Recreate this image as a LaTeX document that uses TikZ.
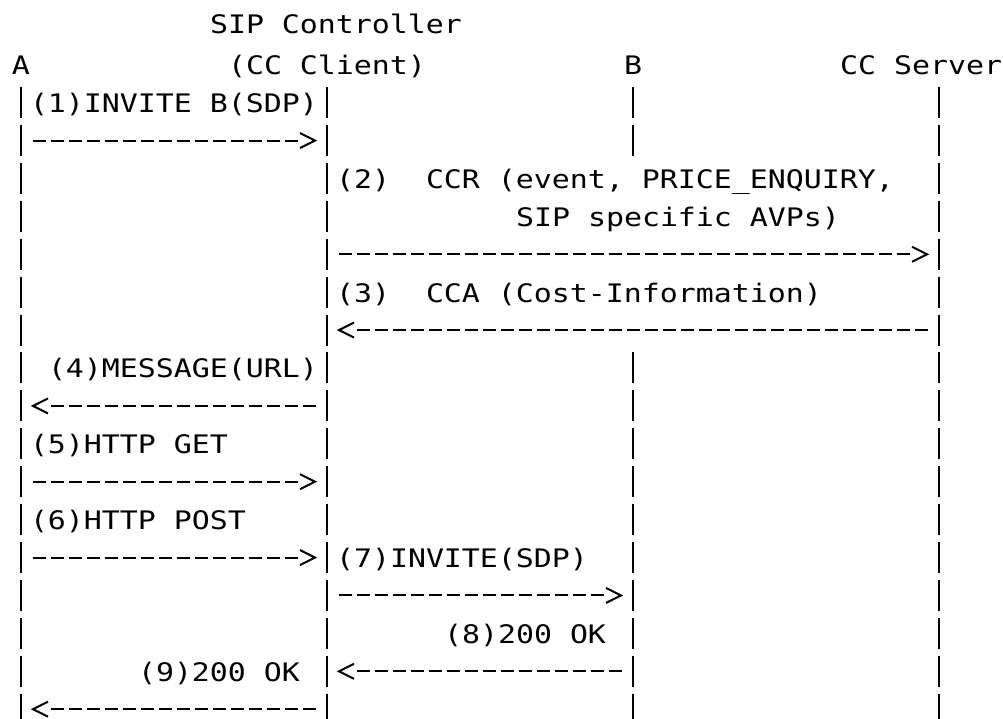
\documentclass[tikz,border=0pt]{standalone}
\usepackage{fontspec}
\newfontfamily\diagmono[FakeStretch=1.1725]{DejaVu Sans Mono}
\usetikzlibrary{calc}
\newcommand\rowy[1]{26.8+37.91*#1}
\newcommand\txtx[1]{12+18*#1}
\newcommand\rarrow[2]{%
  \draw[msg] (#1) -- (#2);
  \draw[chev] ($(#2)+(-27,-7.5)$) -- ($(#2)+(-12,0)$) -- ($(#2)+(-27,7.5)$);}
\newcommand\larrow[2]{%
  \draw[msg] (#1) -- (#2);
  \draw[chev] ($(#2)+(27,-7.5)$) -- ($(#2)+(12,0)$) -- ($(#2)+(27,7.5)$);}
\begin{document}
\frenchspacing
\begin{tikzpicture}[x=1pt,y=-1pt,
  txt/.style={anchor=base west, inner sep=0pt, outer sep=0pt,
    font=\diagmono\fontsize{25.5}{30}\selectfont},
  life/.style={line width=2pt, dash pattern=on 31pt off 6.91pt},
  msg/.style={line width=2pt, dash pattern=on 13pt off 5pt,
    shorten <=11.5pt, shorten >=29.5pt},
  chev/.style={line width=2pt, line join=miter}]
\useasboundingbox (0,0) rectangle (1003,719);

% headers
\node[txt] (sipc) at ({\txtx{11}},34) {SIP Controller};
\node[txt] (hA)   at ({\txtx{0}},75) {A};
\node[txt] (hC)   at ({\txtx{12}},75) {(CC Client)};
\node[txt] (hB)   at ({\txtx{34}},75) {B};
\node[txt] (hS)   at ({\txtx{46}},75) {CC Server};

% lifelines
\coordinate (Atop) at (21,{\rowy{2}-15.5});
\coordinate (Abot) at (21,{\rowy{18}+15.5});
\coordinate (Ctop) at (327,{\rowy{2}-15.5});
\coordinate (Cbot) at (327,{\rowy{18}+15.5});
\coordinate (Stop) at (939,{\rowy{2}-15.5});
\coordinate (Sbot) at (939,{\rowy{18}+15.5});
\coordinate (Btop) at (633,{\rowy{2}-15.5});
\coordinate (Bmid) at (633,{\rowy{3}+15.5});
\coordinate (Bres) at (633,{\rowy{9}-15.5});
\coordinate (Bbot) at (633,{\rowy{18}+15.5});
\draw[life] (Atop) -- (Abot);
\draw[life] (Ctop) -- (Cbot);
\draw[life] (Stop) -- (Sbot);
\draw[life] (Btop) -- (Bmid);
\draw[life] (Bres) -- (Bbot);

% message end points
\coordinate (A3) at (21,{\rowy{3}});   \coordinate (C3) at (327,{\rowy{3}});
\coordinate (C6) at (327,{\rowy{6}});  \coordinate (S6) at (939,{\rowy{6}});
\coordinate (C8) at (327,{\rowy{8}});  \coordinate (S8) at (939,{\rowy{8}});
\coordinate (A10) at (21,{\rowy{10}}); \coordinate (C10) at (327,{\rowy{10}});
\coordinate (A12) at (21,{\rowy{12}}); \coordinate (C12) at (327,{\rowy{12}});
\coordinate (A14) at (21,{\rowy{14}}); \coordinate (C14) at (327,{\rowy{14}});
\coordinate (C15) at (327,{\rowy{15}}); \coordinate (B15) at (633,{\rowy{15}});
\coordinate (C17) at (327,{\rowy{17}}); \coordinate (B17) at (633,{\rowy{17}});
\coordinate (A18) at (21,{\rowy{18}}); \coordinate (C18) at (327,{\rowy{18}});

% labels
\node[txt] (m1)  at ({\txtx{1}},{\rowy{2}+10})  {(1)INVITE B(SDP)};
\node[txt] (m2)  at ({\txtx{18}},{\rowy{4}+10}) {(2)~~CCR (event, PRICE\_ENQUIRY,};
\node[txt] (m2b) at ({\txtx{28}},{\rowy{5}+10}) {SIP specific AVPs)};
\node[txt] (m3)  at ({\txtx{18}},{\rowy{7}+10}) {(3)~~CCA (Cost-Information)};
\node[txt] (m4)  at ({\txtx{2}},{\rowy{9}+10})  {(4)MESSAGE(URL)};
\node[txt] (m5)  at ({\txtx{1}},{\rowy{11}+10}) {(5)HTTP GET};
\node[txt] (m6)  at ({\txtx{1}},{\rowy{13}+10}) {(6)HTTP POST};
\node[txt] (m7)  at ({\txtx{18}},{\rowy{14}+10}) {(7)INVITE(SDP)};
\node[txt] (m8)  at ({\txtx{24}},{\rowy{16}+10}) {(8)200 OK};
\node[txt] (m9)  at ({\txtx{7}},{\rowy{17}+10})  {(9)200 OK};

% arrows
\rarrow{A3}{C3}
\rarrow{C6}{S6}
\larrow{S8}{C8}
\larrow{C10}{A10}
\rarrow{A12}{C12}
\rarrow{A14}{C14}
\rarrow{C15}{B15}
\larrow{B17}{C17}
\larrow{C18}{A18}
\end{tikzpicture}
\end{document}
